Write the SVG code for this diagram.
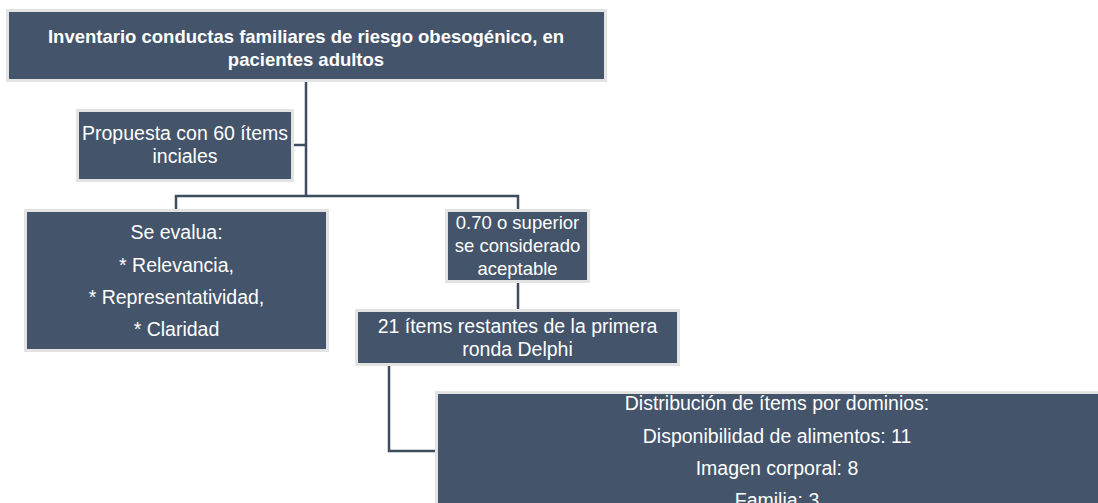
<svg xmlns="http://www.w3.org/2000/svg" width="1098" height="503" viewBox="0 0 1098 503">
<style>
.box{fill:#44546A;stroke:#E3E3E3;stroke-width:3}
.t{font-family:"Liberation Sans",Arial,sans-serif;font-size:19.5px;fill:#FFFFFF;text-anchor:middle}
.b{font-weight:bold;font-size:18.5px}
.s{font-size:18.5px}
.c{fill:none;stroke:#3E4C60;stroke-width:2.5}
</style>
<rect width="1098" height="503" fill="#FFFFFF"/>
<g id="connectors">
<path class="c" d="M306,81 V196"/>
<path class="c" d="M293,145 H306"/>
<path class="c" d="M176,210 V196 H518 V210"/>
<path class="c" d="M518,281 V310"/>
<path class="c" d="M389,364 V451 H436"/>
</g>
<g id="title">
<rect class="box" x="7.5" y="10.5" width="598" height="70"/>
<text class="t b" x="306" y="43">Inventario conductas familiares de riesgo obesogénico, en</text>
<text class="t b" x="306" y="66">pacientes adultos</text>
</g>
<g id="propuesta">
<rect class="box" x="77.5" y="110.5" width="215" height="70"/>
<text class="t" x="185" y="140">Propuesta con 60 ítems</text>
<text class="t" x="185" y="163">inciales</text>
</g>
<g id="evalua">
<rect class="box" x="25.5" y="210.5" width="302" height="140"/>
<text class="t" x="176.5" y="239">Se evalua:</text>
<text class="t" x="176.5" y="272">* Relevancia,</text>
<text class="t" x="176.5" y="304">* Representatividad,</text>
<text class="t" x="176.5" y="336">* Claridad</text>
</g>
<g id="criterio">
<rect class="box" x="446.5" y="210.5" width="142" height="71"/>
<text class="t s" x="517.5" y="229">0.70 o superior</text>
<text class="t s" x="517.5" y="252">se considerado</text>
<text class="t s" x="517.5" y="275">aceptable</text>
</g>
<g id="restantes">
<rect class="box" x="356.5" y="310.5" width="322" height="54"/>
<text class="t" x="517.5" y="333">21 ítems restantes de la primera</text>
<text class="t" x="517.5" y="356">ronda Delphi</text>
</g>
<g id="distribucion">
<rect class="box" x="436.5" y="392.5" width="690" height="150"/>
<text class="t" x="777" y="410">Distribución de ítems por dominios:</text>
<text class="t" x="777" y="443">Disponibilidad de alimentos: 11</text>
<text class="t" x="777" y="475">Imagen corporal: 8</text>
<text class="t" x="777" y="507">Familia: 3</text>
</g>
</svg>
